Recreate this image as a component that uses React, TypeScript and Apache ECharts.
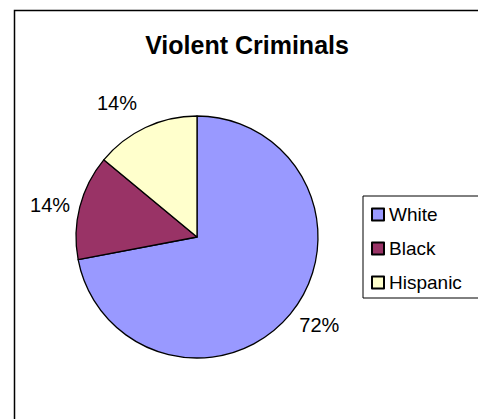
import React, { useEffect, useRef } from 'react';
import * as echarts from 'echarts';

const categories = ['White', 'Black', 'Hispanic'];
const values = [72, 14, 14];
const colors = ['#9999FF', '#993366', '#FFFFCC'];
const labelLineLengths = [17, 8, 27];
const labelLineLengths2 = [-4, 2, -3];

export default function App() {
  const ref = useRef<HTMLDivElement>(null);
  useEffect(() => {
    const chart = echarts.init(ref.current!, null, { renderer: 'svg' });
    const font = 'Arial, "Liberation Sans", sans-serif';
    chart.setOption({
      animation: false,
      backgroundColor: '#ffffff',
      title: {
        text: 'Violent Criminals',
        left: 247,
        top: 32,
        textAlign: 'center',
        padding: 0,
        textStyle: { fontFamily: font, fontSize: 25, fontWeight: 'bold', color: '#000' },
      },
      legend: {
        orient: 'vertical',
        left: 363,
        top: 196,
        data: categories,
        borderColor: '#000',
        borderWidth: 1,
        borderRadius: 0,
        padding: [9, 40, 6, 8],
        itemGap: 15,
        itemWidth: 12,
        itemHeight: 12,
        icon: 'rect',
        selectedMode: false,
        textStyle: { fontFamily: font, fontSize: 19, color: '#000' },
      },
      graphic: [
        {
          type: 'rect',
          silent: true,
          shape: { x: 14.5, y: 10.5, width: 700, height: 700 },
          style: { fill: 'none', stroke: '#000', lineWidth: 1.5 },
        },
      ],
      series: [
        {
          type: 'pie',
          center: [197, 237],
          radius: 121,
          startAngle: 90,
          clockwise: true,
          avoidLabelOverlap: false,
          percentPrecision: 0,
          itemStyle: { borderColor: '#000', borderWidth: 1.3 },
          label: {
            show: true,
            position: 'outside',
            formatter: '{d}%',
            distanceToLabelLine: 0,
            fontFamily: font,
            fontSize: 20,
            color: '#000',
          },
          labelLine: { show: false },
          emphasis: { disabled: true },
          data: categories.map((name, i) => ({
            name,
            value: values[i],
            itemStyle: { color: colors[i] },
            labelLine: { show: false, length: labelLineLengths[i], length2: labelLineLengths2[i] },
          })),
        },
      ],
    });
    return () => chart.dispose();
  }, []);
  return (
    <div style={{ position: 'fixed', left: 0, top: 0, width: 478, height: 419, overflow: 'hidden' }}>
      <div ref={ref} style={{ width: 540, height: 419 }} />
    </div>
  );
}
